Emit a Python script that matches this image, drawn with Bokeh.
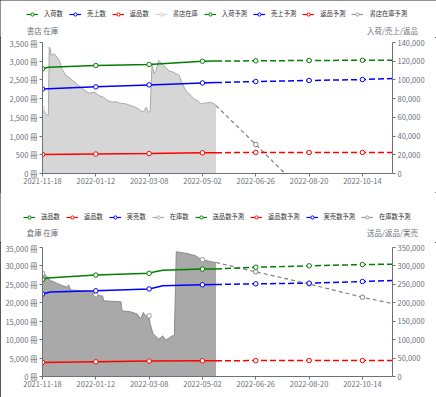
import pandas as pd
from bokeh.plotting import figure
from bokeh.models import (Range1d, LinearAxis, FixedTicker, DatetimeTickFormatter,
                          NumeralTickFormatter, CustomJSTickFormatter, Legend, LegendItem, Label)
from bokeh.layouts import column
from bokeh.embed import file_html
from bokeh.resources import INLINE

FONT = "Noto Sans CJK JP"
AXIS_COLOR = "#6e7079"
GREEN, BLUE, RED = "#008000", "#0000ff", "#ff0000"
W = 436
NAN = float("nan")

X_START, X_END = "2021-11-18", "2022-11-14"
x_tick_labels = ["2021-11-18", "2022-01-12", "2022-03-08", "2022-05-02",
                 "2022-06-26", "2022-08-20", "2022-10-14"]
marker_dates = x_tick_labels

# ---------------- top chart (書店) ----------------
top_left_ticks = [0, 500, 1000, 1500, 2000, 2500, 3000, 3500]
top_right_ticks = [0, 20000, 40000, 60000, 80000, 100000, 120000, 140000]
top_legend = ["入荷数", "売上数", "返品数", "書店在庫", "入荷予測", "売上予測", "返品予測", "書店在庫予測"]

shop_stock_dates = ["2021-11-18", "2021-11-20", "2021-11-23", "2021-11-24", "2021-11-25", "2021-11-26",
                    "2021-11-27", "2021-11-30", "2021-12-03", "2021-12-06", "2021-12-08", "2021-12-12",
                    "2021-12-15", "2021-12-19", "2021-12-23", "2021-12-27", "2022-01-01", "2022-01-05",
                    "2022-01-10", "2022-01-12", "2022-01-15", "2022-01-20", "2022-01-24", "2022-01-29",
                    "2022-02-01", "2022-02-06", "2022-02-12", "2022-02-17", "2022-02-22", "2022-02-27",
                    "2022-03-02", "2022-03-05", "2022-03-07", "2022-03-08", "2022-03-09", "2022-03-11",
                    "2022-03-13", "2022-03-15", "2022-03-18", "2022-03-23", "2022-03-28", "2022-04-02",
                    "2022-04-08", "2022-04-11", "2022-04-16", "2022-04-20", "2022-04-23", "2022-04-27",
                    "2022-04-30", "2022-05-02", "2022-05-05", "2022-05-10", "2022-05-14", "2022-05-16"]
shop_stock = [1730, 1650, 1550, 1560, 3380, 3330,
              3150, 3200, 3110, 2975, 2800, 2620,
              2575, 2485, 2410, 2305, 2220, 2145,
              2170, 2150, 2085, 2040, 1950, 1905,
              1925, 1880, 1860, 1815, 1770, 1685,
              1640, 1770, 1640, 1645, 1650, 2940,
              2670, 2750, 3020, 2885, 2750, 2705,
              2620, 2400, 2170, 2085, 2000, 1950,
              1860, 1870, 1880, 1905, 1860, 1815]
shop_stock_pred_dates = ["2022-05-16", "2022-06-26", "2022-07-26"]
shop_stock_pred = [1815, 775, 0]

actual_dates = ["2021-11-18", "2022-01-12", "2022-03-08", "2022-05-02", "2022-05-16"]
pred_dates = ["2022-05-16", "2022-06-26", "2022-08-20", "2022-10-14", "2022-11-14"]

in_dates = ["2021-11-18", "2021-11-24", "2022-01-12", "2022-03-08", "2022-05-02", "2022-05-16"]
in_vals = [111900, 113600, 115400, 116500, 120000, 120200]
in_pred = [120200, 120400, 120800, 121000, 121100]
sales_vals = [90300, 92600, 94700, 96800, 97200]
sales_pred = [97200, 98300, 99400, 100400, 101500]
ret_vals = [20300, 20800, 21300, 22100, 22200]
ret_pred = [22200, 22500, 22500, 22500, 22500]

# ---------------- bottom chart (倉庫) ----------------
bot_left_ticks = [0, 5000, 10000, 15000, 20000, 25000, 30000, 35000]
bot_right_ticks = [0, 50000, 100000, 150000, 200000, 250000, 300000, 350000]
bot_legend = ["送品数", "返品数", "実売数", "在庫数", "送品数予測", "返品数予測", "実売数予測", "在庫数予測"]

wh_stock_dates = ["2021-11-18", "2021-11-20", "2021-11-23", "2021-11-26", "2021-11-29", "2021-12-03",
                  "2021-12-09", "2021-12-13", "2021-12-15", "2021-12-17", "2021-12-27", "2022-01-06",
                  "2022-01-09", "2022-01-11", "2022-01-12", "2022-01-17", "2022-01-19", "2022-01-20",
                  "2022-02-06", "2022-02-07", "2022-02-08", "2022-02-17", "2022-02-24", "2022-02-27",
                  "2022-03-02", "2022-03-04", "2022-03-07", "2022-03-08", "2022-03-09", "2022-03-12",
                  "2022-03-18", "2022-03-22", "2022-03-25", "2022-04-01", "2022-04-03", "2022-04-05",
                  "2022-04-16", "2022-04-25", "2022-04-30", "2022-05-02", "2022-05-10", "2022-05-16"]
wh_stock = [27950, 27750, 27050, 26000, 25800, 25250,
            24600, 24300, 24800, 23500, 23250, 23060,
            23000, 22200, 22160, 21900, 21850, 20540,
            20270, 20250, 17830, 17550, 16930, 15570,
            17370, 16470, 16740, 16470, 14290, 11580,
            10140, 11040, 9870, 11040, 11100, 33830,
            33380, 32750, 31850, 31700, 31200, 30930]
wh_stock_pred = [30930, 28400, 25100, 21500, 19800]

send_dates = ["2021-11-18", "2021-11-23", "2022-01-12", "2022-03-08", "2022-03-14", "2022-03-22",
              "2022-05-02", "2022-05-16"]
send_vals = [263000, 267000, 275100, 280000, 284000, 288500, 291400, 292000]
send_pred = [292000, 296500, 300200, 303800, 304700]
real_dates = ["2021-11-18", "2021-11-26", "2022-01-12", "2022-03-08", "2022-03-22", "2022-05-02", "2022-05-16"]
real_vals = [223600, 229000, 232500, 237500, 246000, 248800, 249500]
real_pred = [249500, 251500, 253200, 257700, 260400]
ret2_vals = [38000, 39900, 41800, 42600, 42800]
ret2_pred = [42800, 43200, 43400, 43400, 43400]


def ts(lst):
    return list(pd.to_datetime(lst))


def make_fig(height, top_border, bottom_border, left_ticks, right_ticks):
    p = figure(width=W, height=height, x_axis_type="datetime", output_backend="svg",
               toolbar_location=None, min_border_left=42, min_border_right=44,
               min_border_top=top_border, min_border_bottom=bottom_border, frame_align=False,
               x_range=Range1d(pd.Timestamp(X_START), pd.Timestamp(X_END)),
               y_range=Range1d(left_ticks[0], left_ticks[-1]))
    p.extra_y_ranges = {"right": Range1d(right_ticks[0], right_ticks[-1])}
    p.add_layout(LinearAxis(y_range_name="right"), "right")
    p.outline_line_color = None
    p.xgrid.visible = False
    p.ygrid.visible = False
    for ax in p.axis:
        ax.axis_line_color = AXIS_COLOR
        ax.major_tick_line_color = AXIS_COLOR
        ax.major_tick_out = 3
        ax.major_tick_in = 0
        ax.minor_tick_out = 0
        ax.minor_tick_in = 0
        ax.major_label_text_font = FONT
        ax.major_label_text_font_size = "7.5px"
        ax.major_label_text_color = AXIS_COLOR
        ax.major_label_standoff = 2
    p.xaxis.major_label_standoff = 1
    p.xaxis.ticker = FixedTicker(ticks=[pd.Timestamp(d).value // 10**6 for d in x_tick_labels])
    fmt = "%Y-%m-%d"
    p.xaxis.formatter = DatetimeTickFormatter(microseconds=fmt, milliseconds=fmt, seconds=fmt, minsec=fmt,
                                              minutes=fmt, hourmin=fmt, hours=fmt, days=fmt,
                                              months=fmt, years=fmt)
    p.yaxis[0].ticker = FixedTicker(ticks=left_ticks)
    p.yaxis[0].formatter = CustomJSTickFormatter(code="return tick.toLocaleString('en-US') + ' 冊';")
    p.yaxis[1].ticker = FixedTicker(ticks=right_ticks)
    p.yaxis[1].formatter = NumeralTickFormatter(format="0,0")
    return p


def series(p, dates, vals, color, dash="solid", rng="default", width=1.5):
    p.line(ts(dates), vals, line_color=color, line_width=width, line_dash=dash, y_range_name=rng)
    md = set(marker_dates)
    xs = [d for d in dates if d in md]
    ys = [v for d, v in zip(dates, vals) if d in md]
    if xs:
        p.scatter(ts(xs), ys, marker="circle", size=4.5, fill_color="white", line_color=color,
                  line_width=1, y_range_name=rng)


def header(height, labels, colors, legend_x, legend_cy, left_title, right_title, title_cy):
    h = figure(width=W, height=height, output_backend="svg", toolbar_location=None,
               x_axis_type=None, y_axis_type=None, min_border=0, frame_align=False,
               x_range=Range1d(0, W), y_range=Range1d(0, height))
    h.outline_line_color = None
    items = []
    for lab, col in zip(labels, colors):
        # legend swatches only (no visible data point)
        r1 = h.line(x=[NAN], y=[NAN], line_color=col, line_width=1.2)
        r2 = h.scatter(x=[NAN], y=[NAN], marker="circle", size=7, fill_color="white",
                       line_color=col, line_width=1)
        items.append(LegendItem(label=lab, renderers=[r1, r2]))
    lg = Legend(items=items, orientation="horizontal", location=(legend_x, legend_cy - 4),
                glyph_width=12, glyph_height=8, label_height=8, label_width=10,
                label_text_font=FONT, label_text_font_size="6.3px", label_text_color="#333333",
                label_standoff=6, spacing=6, padding=0, margin=0,
                border_line_alpha=0, background_fill_alpha=0)
    h.add_layout(lg)
    for x, t in [(42, left_title), (392, right_title)]:
        h.add_layout(Label(x=x, y=title_cy, text=t, text_align="center", text_baseline="middle",
                           text_font=FONT, text_font_size="7.5px", text_color=AXIS_COLOR))
    return h


# ---- top ----
h1 = header(37, top_legend, [GREEN, BLUE, RED, "#cccccc", GREEN, BLUE, RED, "#999999"],
            26, 23, "書店 在庫", "入荷/売上/返品", 7)
p1 = make_fig(155, 5, 19, top_left_ticks, top_right_ticks)
p1.varea(x=ts(shop_stock_dates), y1=0, y2=shop_stock, fill_color="#d6d6d6")
p1.line(ts(shop_stock_dates), shop_stock, line_color="#a8a8a8", line_width=1)
p1.scatter(ts(["2021-11-18"]), shop_stock[:1], marker="circle", size=4.5, fill_color="white",
           line_color="#cccccc", line_width=1)
series(p1, shop_stock_pred_dates, shop_stock_pred, "#808080", dash="4 3", width=1.2)
series(p1, in_dates, in_vals, GREEN, rng="right")
series(p1, actual_dates, sales_vals, BLUE, rng="right")
series(p1, actual_dates, ret_vals, RED, rng="right")
series(p1, pred_dates, in_pred, GREEN, dash="6 3", rng="right")
series(p1, pred_dates, sales_pred, BLUE, dash="6 3", rng="right")
series(p1, pred_dates, ret_pred, RED, dash="6 3", rng="right")

# ---- bottom ----
h2 = header(50, bot_legend, [GREEN, RED, BLUE, "#aaaaaa", GREEN, RED, BLUE, "#999999"],
            23, 25, "倉庫 在庫", "送品/返品/実売", 10)
p2 = make_fig(155, 5, 21, bot_left_ticks, bot_right_ticks)
p2.varea(x=ts(wh_stock_dates), y1=0, y2=wh_stock, fill_color="#a9a9a9")
p2.line(ts(wh_stock_dates), wh_stock, line_color="#8c8c8c", line_width=1)
series(p2, wh_stock_dates, wh_stock, "#999999", width=0.01)
series(p2, pred_dates, wh_stock_pred, "#808080", dash="4 3", width=1.2)
series(p2, send_dates, send_vals, GREEN, rng="right")
series(p2, real_dates, real_vals, BLUE, rng="right")
series(p2, actual_dates, ret2_vals, RED, rng="right")
series(p2, pred_dates, send_pred, GREEN, dash="6 3", rng="right")
series(p2, pred_dates, real_pred, BLUE, dash="6 3", rng="right")
series(p2, pred_dates, ret2_pred, RED, dash="6 3", rng="right")

layout = column(h1, p1, h2, p2, spacing=0,
                styles={"outline": "1px solid #222222", "outline-offset": "-1px"})
open("out.html", "w").write(file_html(layout, INLINE))
